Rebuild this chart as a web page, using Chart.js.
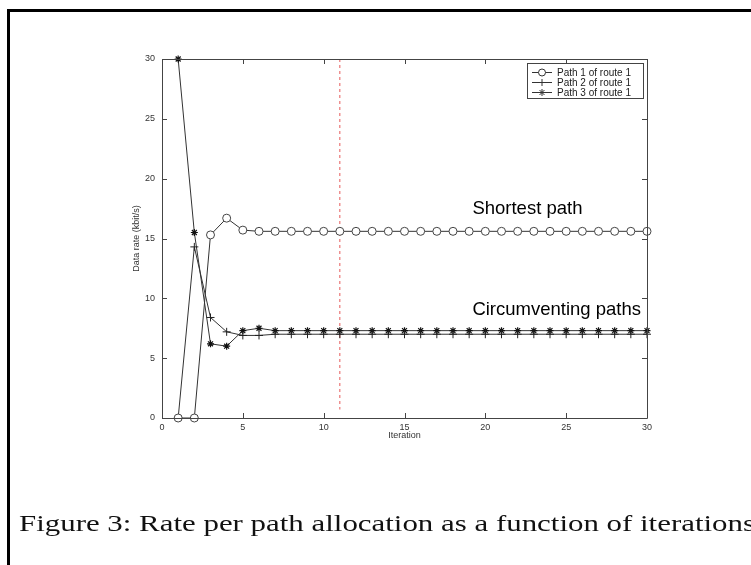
<!DOCTYPE html>
<html>
<head>
<meta charset="utf-8">
<script src="https://cdn.jsdelivr.net/npm/chart.js@4.4.1/dist/chart.umd.min.js"></script>
<style>
  html, body { margin: 0; padding: 0; background: #fff; }
  body { width: 751px; height: 565px; position: relative; overflow: hidden; }
  #frame { position: absolute; left: 7px; top: 9px; width: 800px; height: 600px;
           border-top: 3px solid #000; border-left: 3px solid #000; }
  #wrap { position: absolute; left: 0; top: 0; width: 751px; height: 565px; }
  #caption { position: absolute; left: 19px; top: 512px; white-space: nowrap;
             font-family: "Liberation Serif", "DejaVu Serif", serif; font-size: 23px;
             line-height: 1; color: #111; }
  #caption-text { display: inline-block; transform-origin: 0 50%; }
</style>
</head>
<body>
<div id="frame"></div>
<div id="wrap"><canvas id="chart" width="751" height="565"></canvas></div>
<div id="caption"><span id="caption-text">Figure 3: Rate per path allocation as a function of iterations</span></div>
<script>
// --- dados ---
const iterations = [1, 2, 3, 4, 5, 6, 7, 8, 9, 10, 11, 12, 13, 14, 15, 16, 17, 18, 19, 20, 21, 22, 23, 24, 25, 26, 27, 28, 29, 30];
const path1 = [0, 0, 15.3, 16.7, 15.7, 15.6, 15.6, 15.6, 15.6, 15.6, 15.6, 15.6, 15.6, 15.6, 15.6, 15.6, 15.6, 15.6, 15.6, 15.6, 15.6, 15.6, 15.6, 15.6, 15.6, 15.6, 15.6, 15.6, 15.6, 15.6];
const path2 = [0, 14.3, 8.4, 7.2, 6.9, 6.9, 7.0, 7.0, 7.0, 7.0, 7.0, 7.0, 7.0, 7.0, 7.0, 7.0, 7.0, 7.0, 7.0, 7.0, 7.0, 7.0, 7.0, 7.0, 7.0, 7.0, 7.0, 7.0, 7.0, 7.0];
const path3 = [30, 15.5, 6.2, 6.0, 7.3, 7.5, 7.3, 7.3, 7.3, 7.3, 7.3, 7.3, 7.3, 7.3, 7.3, 7.3, 7.3, 7.3, 7.3, 7.3, 7.3, 7.3, 7.3, 7.3, 7.3, 7.3, 7.3, 7.3, 7.3, 7.3];
const seriesLabels = ['Path 1 of route 1', 'Path 2 of route 1', 'Path 3 of route 1'];
const markerLineX = [11, 11];
const markerLineY = [30, 0.7];
const xTicks = [0, 5, 10, 15, 20, 25, 30];
const yTicks = [0, 5, 10, 15, 20, 25, 30];
const annotations = [
  { text: 'Shortest path', x: 19.2, y: 17.5 },
  { text: 'Circumventing paths', x: 19.2, y: 9.0 }
];

const lineColor = '#333';
const axisColor = '#444';

function toPoints(xs, ys) {
  return xs.map((x, i) => ({ x: x, y: ys[i] }));
}

function drawMarker(ctx, style, x, y, r) {
  if (Chart.helpers && Chart.helpers.drawPoint) {
    Chart.helpers.drawPoint(ctx, { pointStyle: style, radius: r, borderWidth: 1 }, x, y);
  }
}

// eixos no estilo matlab: moldura completa e ticks para dentro
const matlabFrame = {
  id: 'matlabFrame',
  afterDatasetsDraw(chart) {
    const { ctx, chartArea: a, scales: { x, y } } = chart;
    ctx.save();
    ctx.strokeStyle = axisColor;
    ctx.lineWidth = 1;
    ctx.beginPath();
    ctx.rect(a.left + 0.5, a.top + 0.5, a.right - a.left, a.bottom - a.top);
    xTicks.forEach(v => {
      const px = Math.round(x.getPixelForValue(v)) + 0.5;
      ctx.moveTo(px, a.top); ctx.lineTo(px, a.top + 5);
      ctx.moveTo(px, a.bottom); ctx.lineTo(px, a.bottom - 5);
    });
    yTicks.forEach(v => {
      const py = Math.round(y.getPixelForValue(v)) + 0.5;
      ctx.moveTo(a.left, py); ctx.lineTo(a.left + 5, py);
      ctx.moveTo(a.right, py); ctx.lineTo(a.right - 5, py);
    });
    ctx.stroke();

    // textos dentro do grafico
    ctx.fillStyle = '#000';
    ctx.font = '18.5px "Liberation Sans", Arial, sans-serif';
    ctx.textBaseline = 'middle';
    ctx.textAlign = 'left';
    annotations.forEach(t => {
      ctx.fillText(t.text, x.getPixelForValue(t.x), y.getPixelForValue(t.y));
    });

    // legenda
    const bx = 527, by = 63, bw = 116, bh = 35;
    ctx.fillStyle = '#fff';
    ctx.fillRect(bx, by, bw, bh);
    ctx.strokeStyle = axisColor;
    ctx.strokeRect(bx + 0.5, by + 0.5, bw, bh);
    ctx.font = '10px "Liberation Sans", Arial, sans-serif';
    const styles = ['circle', 'cross', 'star'];
    seriesLabels.forEach((lbl, i) => {
      const ry = by + 9 + i * 10;
      ctx.strokeStyle = lineColor;
      ctx.beginPath();
      ctx.moveTo(bx + 5, ry + 0.5); ctx.lineTo(bx + 25, ry + 0.5);
      ctx.stroke();
      ctx.fillStyle = i === 0 ? '#fff' : lineColor;
      ctx.strokeStyle = lineColor;
      drawMarker(ctx, styles[i], bx + 15, ry + 0.5, 3.5);
      ctx.fillStyle = '#222';
      ctx.fillText(lbl, bx + 30, ry + 1);
    });
    ctx.restore();
  }
};

const ctx = document.getElementById('chart').getContext('2d');
new Chart(ctx, {
  type: 'scatter',
  data: {
    datasets: [
      {
        label: seriesLabels[0],
        data: toPoints(iterations, path1),
        showLine: true,
        borderColor: lineColor,
        borderWidth: 1,
        pointStyle: 'circle',
        pointRadius: 4,
        pointBorderWidth: 1,
        pointBorderColor: '#444',
        pointBackgroundColor: '#fff',
        clip: 6
      },
      {
        label: seriesLabels[1],
        data: toPoints(iterations, path2),
        showLine: true,
        borderColor: lineColor,
        borderWidth: 1,
        pointStyle: 'cross',
        pointRadius: 4,
        pointBorderWidth: 1,
        pointBorderColor: '#222',
        clip: 6
      },
      {
        label: seriesLabels[2],
        data: toPoints(iterations, path3),
        showLine: true,
        borderColor: lineColor,
        borderWidth: 1,
        pointStyle: 'star',
        pointRadius: 3.5,
        pointBorderWidth: 1.2,
        pointBorderColor: '#111',
        clip: 6
      },
      {
        label: 'marker',
        data: toPoints(markerLineX, markerLineY),
        showLine: true,
        borderColor: '#e65a5a',
        borderWidth: 1,
        borderDash: [3, 3],
        pointRadius: 0
      }
    ]
  },
  options: {
    responsive: false,
    animation: false,
    events: [],
    layout: { padding: { left: 132, right: 104, top: 59, bottom: 125 } },
    plugins: { legend: { display: false }, tooltip: { enabled: false } },
    scales: {
      x: {
        type: 'linear', min: 0, max: 30,
        afterFit: s => { s.height = 22; },
        grid: { display: false, drawTicks: false },
        border: { display: false },
        ticks: { stepSize: 5, padding: 4, color: '#333', font: { size: 9, family: '"Liberation Sans", Arial, sans-serif' } },
        title: { display: true, text: 'Iteration', color: '#333', padding: 0,
                 font: { size: 9, lineHeight: 1, family: '"Liberation Sans", Arial, sans-serif' } }
      },
      y: {
        type: 'linear', min: 0, max: 30,
        afterFit: s => { s.width = 30; },
        grid: { display: false, drawTicks: false },
        border: { display: false },
        ticks: { stepSize: 5, padding: 7, color: '#333', font: { size: 9, family: '"Liberation Sans", Arial, sans-serif' } },
        title: { display: true, text: 'Data rate (kbit/s)', color: '#333', padding: 0,
                 font: { size: 9, lineHeight: 1, family: '"Liberation Sans", Arial, sans-serif' } }
      }
    }
  },
  plugins: [matlabFrame]
});

// estica a legenda da figura para a largura do original
const cap = document.getElementById('caption-text');
const w = cap.getBoundingClientRect().width;
cap.style.transform = 'scaleX(' + (736 / w) + ')';
</script>
</body>
</html>
